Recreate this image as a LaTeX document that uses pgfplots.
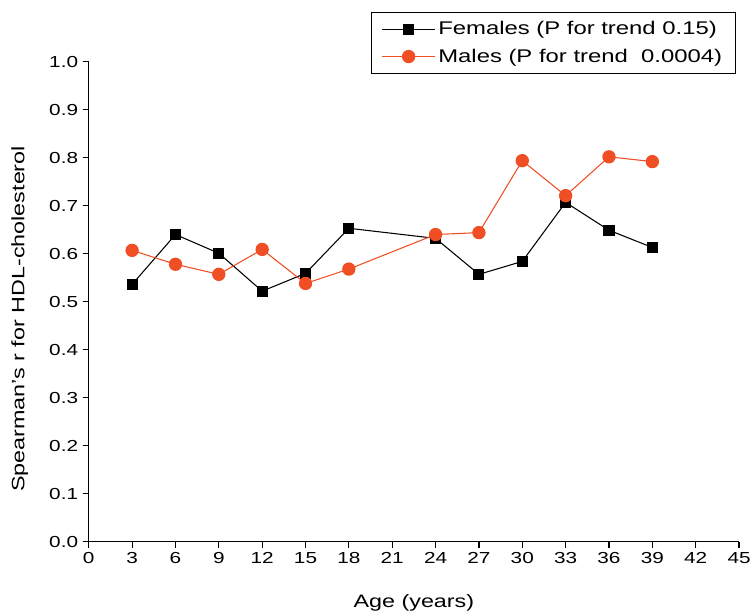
\documentclass[border=0pt]{standalone}
\usepackage{pgfplots}
\pgfplotsset{compat=1.18}
\usepackage{fontspec}
\setmainfont[FakeStretch=1.3]{Liberation Sans}
\definecolor{morange}{RGB}{240,78,36}
\begin{document}
\begin{tikzpicture}[x=1pt,y=1pt]
\begin{axis}[
  scale only axis,
  width=489pt, height=360.75pt,
  anchor=origin, at={(0,0)},
  xmin=0, xmax=45, ymin=0, ymax=1,
  axis x line=bottom, axis y line=left,
  axis line style={-, line width=0.9pt},
  xtick={0,3,...,45},
  ytick={0,0.1,...,1.0},
  tick align=outside,
  major tick length=4.5pt,
  tick style={line width=0.9pt, black},
  yticklabel style={/pgf/number format/.cd, fixed, fixed zerofill, precision=1},
  /pgf/number format/assume math mode=true,
  tick label style={font=\fontsize{12}{14}\selectfont},
  xlabel={Age (years)},
  ylabel={Spearman's r for HDL-cholesterol},
  label style={font=\fontsize{13.5}{15}\selectfont},
  xlabel style={at={(axis description cs:0.5,-0.127)}, anchor=center},
  ylabel style={at={(axis description cs:-0.106,0.464)}, anchor=center},
  legend style={at={(axis description cs:0.995,1.104)}, anchor=north east,
     draw=black, line width=0.6pt, font=\fontsize{13.8}{15}\selectfont,
     row sep=5pt, inner xsep=8pt, inner ysep=5pt},
  legend cell align=left,
  legend image code/.code={
     \draw[mark repeat=2,mark phase=2] plot coordinates {(0cm,0cm) (0.7cm,0cm) (1.4cm,0cm)};},
  clip=false,
]
\addplot[black, line width=0.8pt, mark=square*, mark size=3.75pt, mark options={solid, fill=black}]
 coordinates {(3,0.536) (6,0.640) (9,0.601) (12,0.522) (15,0.559) (18,0.653) (24,0.632) (27,0.557) (30,0.584) (33,0.707) (36,0.649) (39,0.613)};
\addlegendentry{Females (P for trend 0.15)}
\addplot[morange, line width=0.8pt, mark=*, mark size=4.6pt, mark options={solid, fill=morange, draw=morange}]
 coordinates {(3,0.607) (6,0.578) (9,0.557) (12,0.609) (15,0.538) (18,0.568) (24,0.640) (27,0.644) (30,0.794) (33,0.721) (36,0.802) (39,0.792)};
\addlegendentry{Males (P for trend\ \ 0.0004)}
\end{axis}
\path[use as bounding box] (-66.75pt,-54.75pt) rectangle (499.5pt,407.25pt);
\end{tikzpicture}
\end{document}
